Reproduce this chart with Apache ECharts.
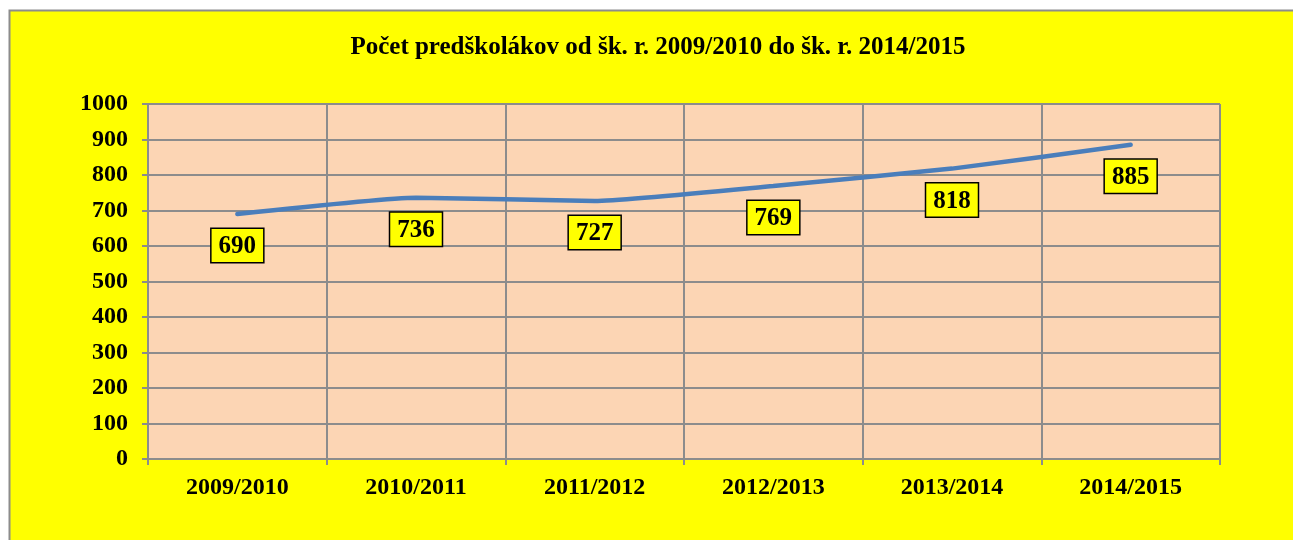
<!DOCTYPE html>
<html>
<head>
<meta charset="utf-8">
<script src="https://cdn.jsdelivr.net/npm/echarts@6/dist/echarts.min.js"></script>
<style>
html, body { margin: 0; padding: 0; background: #ffffff; }
#chart { width: 1293px; height: 540px; }
</style>
</head>
<body>
<div id="chart"></div>
<script>
var categories = ['2009/2010', '2010/2011', '2011/2012', '2012/2013', '2013/2014', '2014/2015'];
var values = [690, 736, 727, 769, 818, 885];
var yTicks = [0, 100, 200, 300, 400, 500, 600, 700, 800, 900, 1000];

var myChart = echarts.init(document.getElementById('chart'));

var serif = '"Liberation Serif", "DejaVu Serif", serif';

var option = {
    backgroundColor: '#ffffff',
    animation: false,
    graphic: [{
        type: 'rect',
        z: -10,
        shape: {x: 9.5, y: 10.5, width: 1400, height: 600},
        style: {fill: '#ffff00', stroke: '#8c8c8c', lineWidth: 2}
    }],
    title: {
        text: 'Počet predškolákov od šk. r. 2009/2010 do šk. r. 2014/2015',
        left: 653,
        textAlign: 'center',
        top: 30,
        textStyle: {fontFamily: serif, fontWeight: 'bold', fontSize: 25, color: '#000'}
    },
    grid: {
        left: 148, right: 73, top: 104, bottom: 81,
        show: true,
        backgroundColor: '#fcd5b4',
        borderWidth: 0
    },
    xAxis: {
        type: 'category',
        data: categories,
        boundaryGap: true,
        axisLine: {lineStyle: {color: '#8c8c8c', width: 2}},
        axisTick: {show: true, length: 6, inside: false, lineStyle: {color: '#8c8c8c', width: 2}},
        splitLine: {show: true, lineStyle: {color: '#8c8c8c', width: 2}},
        axisLabel: {
            fontFamily: serif, fontWeight: 'bold', fontSize: 24, color: '#000',
            margin: 17, interval: 0
        }
    },
    yAxis: {
        type: 'value',
        min: yTicks[0],
        max: yTicks[yTicks.length - 1],
        interval: 100,
        axisLine: {show: true, lineStyle: {color: '#8c8c8c', width: 2}},
        axisTick: {show: true, length: 6, lineStyle: {color: '#8c8c8c', width: 2}},
        splitLine: {show: true, lineStyle: {color: '#8c8c8c', width: 2}},
        axisLabel: {
            fontFamily: serif, fontWeight: 'bold', fontSize: 24, color: '#000',
            margin: 20,
            formatter: function (v) { return String(v); }
        }
    },
    series: [{
        type: 'line',
        data: values,
        smooth: 0.15,
        showSymbol: true,
        symbol: 'circle',
        symbolSize: 2,
        lineStyle: {color: '#4a7ebb', width: 4.5, cap: 'round'},
        itemStyle: {color: '#4a7ebb'},
        label: {
            show: true,
            position: 'bottom',
            distance: 14,
            fontFamily: serif,
            fontWeight: 'bold',
            fontSize: 25,
            color: '#000',
            backgroundColor: '#ffff00',
            borderColor: '#000',
            borderWidth: 1.5,
            padding: [5, 7, 3, 7]
        }
    }]
};
myChart.setOption(option);
</script>
</body>
</html>
